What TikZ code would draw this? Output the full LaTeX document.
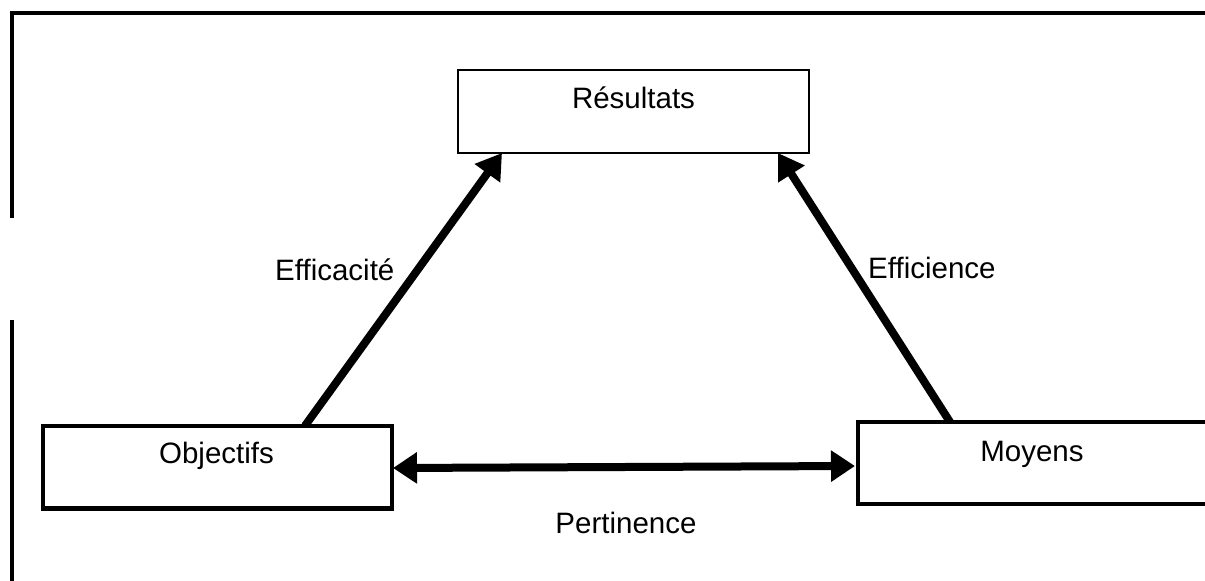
\documentclass[tikz,border=0pt]{standalone}
\usepackage{fontspec}
\setmainfont{Liberation Sans}
\usetikzlibrary{arrows.meta}
\begin{document}
\begin{tikzpicture}[x=1pt,y=-1pt,
  thinbox/.style={draw, line width=1.5pt, rectangle, outer sep=0pt, inner sep=0pt},
  thickbox/.style={draw, line width=4.5pt, rectangle, outer sep=0pt, inner sep=0pt},
  lbl/.style={font=\fontsize{29.5}{35}\selectfont, inner sep=0pt, anchor=base},
  bigarrow/.style={line width=8pt, -{Triangle[length=25pt,width=30pt]}},
  dblarrow/.style={line width=8pt, {Triangle[length=24pt,width=30pt]}-{Triangle[length=24pt,width=30pt]}},
  framestyle/.style={line width=4pt}
]
\useasboundingbox (0,0) rectangle (1205,581);
\clip (0,0) rectangle (1205,581);
% frame
\draw[framestyle] (12,218) -- (12,12.5) -- (1215,12.5);
\draw[framestyle] (12,320) -- (12,590);
% boxes
\node[thinbox, minimum width=351pt, minimum height=83pt] (res) at (633.5,111.5) {};
\node[thickbox, minimum width=349pt, minimum height=82.5pt] (obj) at (217.5,467) {};
\node[thickbox, minimum width=382pt, minimum height=82pt] (moy) at (1049,463) {};
% box texts
\node[lbl] (tres) at (633.5,108) {Résultats};
\node[lbl] (tobj) at (216.5,463) {Objectifs};
\node[lbl] (tmoy) at (1032,461) {Moyens};
% arrows
\draw[bigarrow] ([xshift=262pt]obj.north west) -- ([xshift=-131.5pt]res.south);
\draw[bigarrow] ([xshift=92pt]moy.north west) -- ([xshift=144.5pt]res.south);
\draw[dblarrow] ([xshift=1pt,yshift=-1pt]obj.east) -- ([xshift=-3pt,yshift=-3pt]moy.west);
% arrow labels
\node[lbl, anchor=base west] (leff) at (275,280) {Efficacité};
\node[lbl, anchor=base west] (lefc) at (868,278) {Efficience};
\node[lbl] (lper) at (626,533) {Pertinence};
\end{tikzpicture}
\end{document}
